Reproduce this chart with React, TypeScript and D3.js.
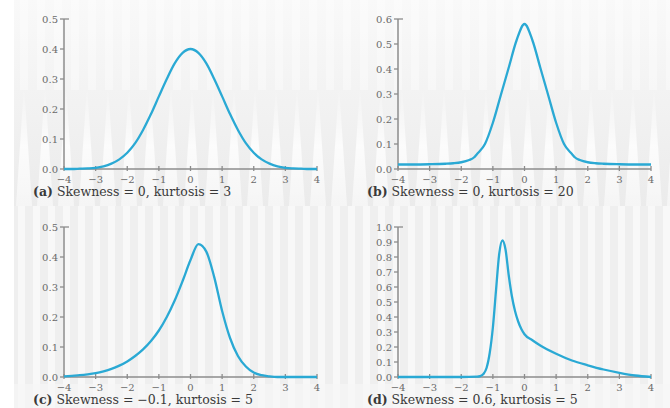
import React, { useRef, useEffect } from "react";
import * as d3 from "d3";

// curve readings (x, density) for each panel
const xA = [-4, -3.75, -3.5, -3.25, -3, -2.75, -2.5, -2.25, -2, -1.75, -1.5, -1.25, -1, -0.75, -0.5, -0.25, 0,
  0.25, 0.5, 0.75, 1, 1.25, 1.5, 1.75, 2, 2.25, 2.5, 2.75, 3, 3.25, 3.5, 3.75, 4];
const yA = [0, 0, 0.001, 0.002, 0.004, 0.009, 0.018, 0.032, 0.054, 0.086, 0.13, 0.183, 0.242, 0.3, 0.352, 0.387, 0.4,
  0.387, 0.352, 0.3, 0.242, 0.183, 0.13, 0.086, 0.054, 0.032, 0.018, 0.009, 0.004, 0.002, 0.001, 0, 0];

const xB = [-4, -3.5, -3, -2.5, -2.25, -2, -1.75, -1.6, -1.5, -1.25, -1, -0.75, -0.5, -0.25, 0,
  0.25, 0.5, 0.75, 1, 1.25, 1.5, 1.6, 1.75, 2, 2.25, 2.5, 3, 3.5, 4];
const yB = [0.018, 0.018, 0.019, 0.021, 0.023, 0.027, 0.036, 0.046, 0.06, 0.1, 0.185, 0.295, 0.405, 0.515, 0.58,
  0.515, 0.405, 0.295, 0.185, 0.1, 0.06, 0.046, 0.036, 0.027, 0.023, 0.021, 0.019, 0.018, 0.018];

const xC = [-4, -3.75, -3.5, -3.25, -3, -2.75, -2.5, -2.25, -2, -1.75, -1.5, -1.25, -1, -0.75, -0.5, -0.25, 0,
  0.25, 0.5, 0.75, 1, 1.25, 1.5, 1.75, 2, 2.25, 2.5, 2.75, 3, 3.5, 4];
const yC = [0.002, 0.004, 0.006, 0.009, 0.013, 0.019, 0.027, 0.038, 0.052, 0.07, 0.092, 0.12, 0.155, 0.2, 0.255, 0.32, 0.39,
  0.443, 0.418, 0.333, 0.22, 0.13, 0.07, 0.035, 0.015, 0.006, 0.002, 0, 0, 0, 0];

const xD = [-4, -3, -2, -1.5, -1.4, -1.3, -1.2, -1.1, -1, -0.9, -0.8, -0.7, -0.6, -0.5, -0.4, -0.3, -0.2, -0.1, 0,
  0.25, 0.5, 1, 1.5, 2, 2.5, 3, 3.5, 4];
const yD = [0, 0, 0, 0.002, 0.006, 0.02, 0.06, 0.16, 0.33, 0.58, 0.82, 0.91, 0.85, 0.68, 0.54, 0.44, 0.37, 0.32, 0.285,
  0.245, 0.21, 0.155, 0.11, 0.078, 0.05, 0.028, 0.01, 0];

const xTicks = [-4, -3, -2, -1, 0, 1, 2, 3, 4];
const yTicksHalf = [0, 0.1, 0.2, 0.3, 0.4, 0.5];
const yTicksSix = [0, 0.1, 0.2, 0.3, 0.4, 0.5, 0.6];
const yTicksOne = [0, 0.1, 0.2, 0.3, 0.4, 0.5, 0.6, 0.7, 0.8, 0.9, 1.0];

const labels = ["(a)", "(b)", "(c)", "(d)"];
const captions = [
  "Skewness = 0, kurtosis = 3",
  "Skewness = 0, kurtosis = 20",
  "Skewness = \u22120.1, kurtosis = 5",
  "Skewness = 0.6, kurtosis = 5",
];

const panels = [
  { xs: xA, ys: yA, yTicks: yTicksHalf },
  { xs: xB, ys: yB, yTicks: yTicksSix },
  { xs: xC, ys: yC, yTicks: yTicksHalf },
  { xs: xD, ys: yD, yTicks: yTicksOne },
];

const App = () => {
  const ref = useRef(null);
  const width = 670;
  const height = 408;

  useEffect(() => {
    const svg = d3.select(ref.current);
    svg.selectAll("*").remove();

    // scanned-paper background
    const defs = svg.append("defs");
    const g1 = defs.append("linearGradient").attr("id", "spike").attr("x1", 0).attr("x2", 0).attr("y1", 0).attr("y2", 1);
    g1.append("stop").attr("offset", "0%").attr("stop-color", "#fff").attr("stop-opacity", 0);
    g1.append("stop").attr("offset", "50%").attr("stop-color", "#fff").attr("stop-opacity", 0.8);
    g1.append("stop").attr("offset", "100%").attr("stop-color", "#fff").attr("stop-opacity", 0.5);
    const g2 = defs.append("linearGradient").attr("id", "topfade").attr("x1", 0).attr("x2", 0).attr("y1", 0).attr("y2", 1);
    g2.append("stop").attr("offset", "0%").attr("stop-color", "#f9f9f9");
    g2.append("stop").attr("offset", "100%").attr("stop-color", "#ebebeb");

    svg.append("rect").attr("width", width).attr("height", height).attr("fill", "#fff");
    svg.append("rect").attr("x", 14).attr("width", width - 14).attr("height", 206).attr("fill", "url(#topfade)");
    svg.append("rect").attr("x", 14).attr("y", 206).attr("width", width - 14).attr("height", 202).attr("fill", "#efefef");

    svg.append("g").selectAll("rect").data(d3.range(20, width, 17)).enter().append("rect")
      .attr("x", (d) => d).attr("y", 0).attr("width", 8).attr("height", 90)
      .attr("fill", "#fff").attr("opacity", 0.35);
    svg.append("g").selectAll("path").data(d3.range(16, width, 21)).enter().append("path")
      .attr("d", (d) => `M${d},206L${d + 8},85L${d + 16},206Z`)
      .attr("fill", "url(#spike)");
    svg.append("g").selectAll("rect").data(d3.range(18, width, 15)).enter().append("rect")
      .attr("x", (d) => d).attr("y", 206).attr("width", 7).attr("height", 202)
      .attr("fill", "#fff").attr("opacity", 0.55);
    svg.append("rect").attr("x", 14).attr("y", 384).attr("width", width - 14).attr("height", 24)
      .attr("fill", "#f7f7f7").attr("opacity", 0.7);

    const plotW = 253;
    const plotH = 150;
    const lefts = [64, 398];
    const tops = [19, 227];
    const capOffsets = [27, 27];
    const axisColor = "#8c8c8c";
    const font = "'DejaVu Serif', 'Liberation Serif', serif";

    panels.forEach((p, i) => {
      const row = Math.floor(i / 2);
      const left = lefts[i % 2];
      const top = tops[row];
      const yMax = p.yTicks[p.yTicks.length - 1];

      const x = d3.scaleLinear().domain([-4, 4]).range([0, plotW]);
      const y = d3.scaleLinear().domain([0, yMax]).range([plotH, 0]);

      const g = svg.append("g").attr("transform", `translate(${left},${top})`);

      // y axis
      g.append("line").attr("x1", 0).attr("x2", 0).attr("y1", 0).attr("y2", plotH)
        .attr("stroke", axisColor).attr("stroke-width", 1.5);
      g.append("line").attr("x1", 0).attr("x2", 5).attr("y1", 0).attr("y2", 0)
        .attr("stroke", axisColor).attr("stroke-width", 1.3);
      g.selectAll(".ytick").data(p.yTicks).enter().append("line")
        .attr("x1", -4).attr("x2", 0).attr("y1", (d) => y(d)).attr("y2", (d) => y(d))
        .attr("stroke", axisColor).attr("stroke-width", 1.3);
      g.selectAll(".ylab").data(p.yTicks).enter().append("text")
        .attr("x", -6).attr("y", (d) => y(d) + 3.5)
        .attr("text-anchor", "end")
        .style("font-family", font).style("font-size", "10px").style("fill", "#6a6a6a")
        .text((d) => d.toFixed(1));

      // x axis
      g.append("line").attr("x1", 0).attr("x2", plotW).attr("y1", plotH).attr("y2", plotH)
        .attr("stroke", axisColor).attr("stroke-width", 1.5);
      g.selectAll(".xtick").data(xTicks).enter().append("line")
        .attr("x1", (d) => x(d)).attr("x2", (d) => x(d)).attr("y1", plotH - 3).attr("y2", plotH + 2)
        .attr("stroke", axisColor).attr("stroke-width", 1.3);
      g.selectAll(".xlab").data(xTicks).enter().append("text")
        .attr("x", (d) => x(d)).attr("y", plotH + 14)
        .attr("text-anchor", "middle")
        .style("font-family", font).style("font-size", "10px").style("fill", "#6a6a6a")
        .text((d) => (d < 0 ? "\u2212" + Math.abs(d) : String(d)));

      // density curve
      const pts = p.xs.map((v, k) => [v, p.ys[k]]);
      const line = d3.line().x((d) => x(d[0])).y((d) => y(d[1])).curve(d3.curveMonotoneX);
      g.append("path").datum(pts).attr("d", line)
        .attr("fill", "none").attr("stroke", "#2aa9d4").attr("stroke-width", 2.3);

      // caption
      const cap = g.append("text").attr("x", -31).attr("y", plotH + capOffsets[row])
        .style("font-family", font).style("font-size", "12.5px").style("fill", "#3a3a3a");
      cap.append("tspan").style("font-weight", "bold").text(labels[i]);
      cap.append("tspan").text(" " + captions[i]);
    });
  }, []);

  return (
    <div style={{ position: "fixed", left: 0, top: 0, width: width, height: height, overflow: "hidden" }}>
      <svg ref={ref} width={width} height={height} style={{ display: "block" }} />
    </div>
  );
};

export default App;
